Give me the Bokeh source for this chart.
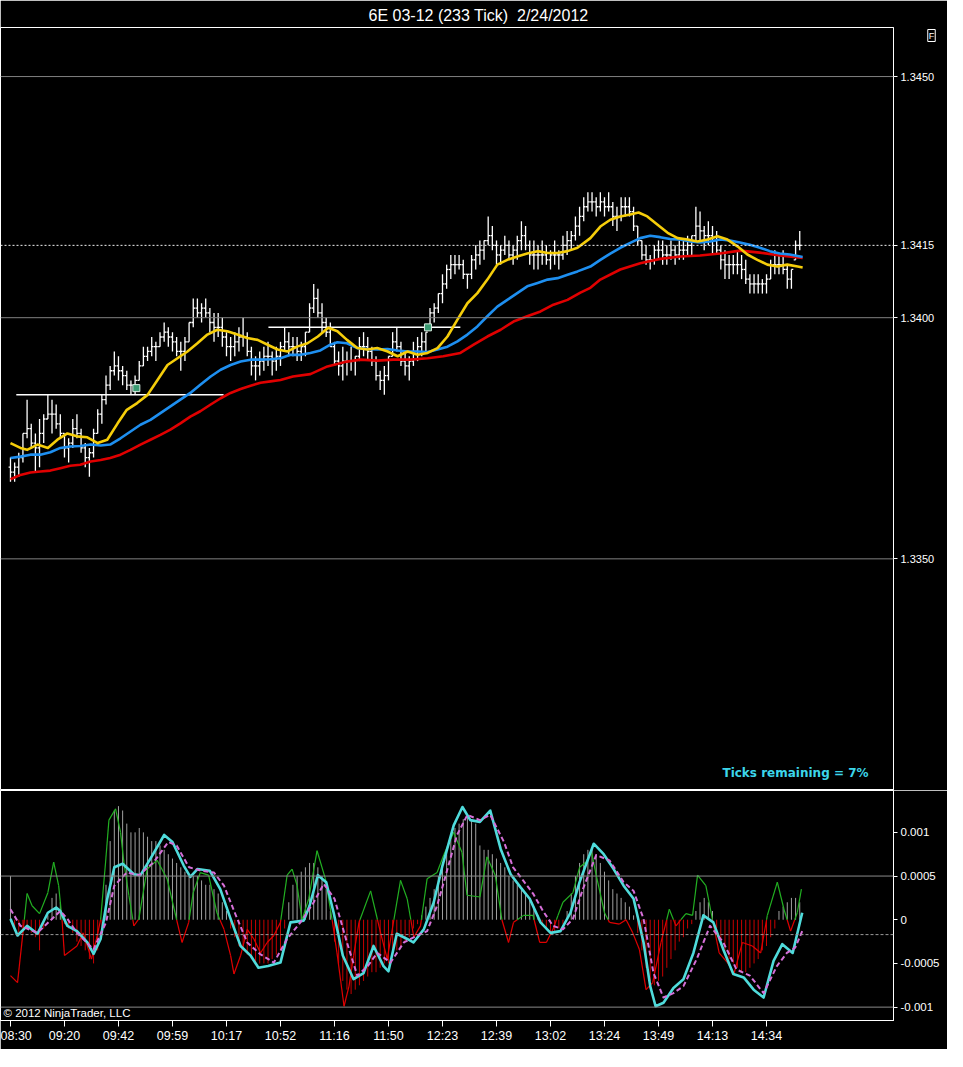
from bokeh.plotting import figure
from bokeh.layouts import column
from bokeh.models import Range1d, FixedTicker, Label, Span, CustomJSTickFormatter, Title
from bokeh.embed import file_html
from bokeh.resources import INLINE

# ---------------- data ----------------
TITLE = "6E 03-12 (233 Tick)\u00a0 2/24/2012"
BASE_PRICE = 1.3400      # prices below are stored in pips relative to this
PIP = 0.0001
OSC_UNIT = 0.0001        # oscillator values are stored in units of 0.0001

TIME_LABELS = ["08:30", "09:20", "09:42", "09:59", "10:17", "10:52", "11:16", "11:50",
               "12:23", "12:39", "13:02", "13:24", "13:49", "14:13", "14:34"]
TIME_LABEL_BARS = [0, 13, 26, 39, 52, 65, 78, 91, 104, 117, 130, 143, 156, 169, 182]

BAR_HIGH = [-29, -30, -28, -24, -17, -22, -24, -21, -20, -16,
            -17, -18, -20, -24, -25, -21, -20, -23, -26, -27,
            -23, -19, -16, -12, -10, -7, -8, -10, -11, -13,
            -12, -9, -6, -6, -4, -5, -3, -1, -2, -3,
            -4, -5, -4, -1, 4, 4, 3, 4, 2, 1,
            1, 0, -3, -4, -3, -2, 0, -3, -6, -8,
            -7, -6, -5, -7, -6, -5, -2, -3, -4, -4,
            -5, -3, 3, 7, 6, 3, 0, -1, -5, -7,
            -6, -7, -6, -8, -4, -3, -4, -6, -8, -11,
            -10, -8, -3, -2, -5, -7, -8, -5, -4, -3,
            -3, 2, 3, 5, 9, 11, 13, 13, 13, 12,
            9, 13, 15, 16, 16, 21, 19, 16, 15, 17,
            16, 15, 17, 20, 19, 16, 16, 15, 16, 15,
            14, 16, 14, 17, 18, 18, 21, 23, 25, 26,
            26, 25, 26, 25, 26, 24, 23, 25, 25, 25,
            23, 19, 16, 15, 13, 15, 16, 16, 15, 16,
            15, 16, 16, 17, 17, 23, 22, 19, 20, 19,
            18, 15, 14, 13, 13, 14, 13, 12, 9, 9,
            9, 8, 9, 12, 14, 13, 14, 11, 10, 16,
            18]
BAR_LOW = [-34, -34, -33, -30, -25, -27, -32, -31, -26, -21,
           -24, -23, -25, -29, -30, -27, -25, -28, -31, -33,
           -29, -24, -22, -18, -15, -12, -13, -14, -15, -16,
           -16, -13, -10, -9, -8, -9, -6, -5, -6, -7,
           -8, -11, -9, -5, -2, 0, -1, 0, -3, -5,
           -4, -6, -8, -9, -8, -7, -6, -8, -12, -13,
           -12, -11, -10, -12, -11, -10, -7, -8, -8, -9,
           -9, -8, -3, 1, 0, -3, -4, -6, -10, -12,
           -13, -12, -11, -12, -9, -8, -9, -10, -13, -15,
           -16, -13, -8, -7, -10, -12, -13, -10, -9, -8,
           -7, -2, -1, 1, 3, 6, 8, 9, 10, 8,
           6, 8, 10, 11, 12, 15, 14, 11, 11, 13,
           12, 11, 12, 14, 14, 11, 10, 10, 11, 11,
           10, 11, 10, 12, 13, 14, 16, 17, 20, 22,
           22, 21, 22, 21, 22, 19, 18, 20, 21, 21,
           18, 15, 12, 11, 10, 11, 12, 11, 11, 12,
           11, 12, 12, 13, 13, 16, 16, 14, 15, 13,
           13, 10, 8, 8, 9, 9, 8, 7, 5, 5,
           5, 5, 5, 8, 9, 9, 9, 6, 6, 12,
           14]
BAR_OPEN = [-31, -32, -31, -29, -24, -23, -26, -27, -24, -21,
            -20, -20, -22, -24, -27, -26, -23, -24, -27, -29,
            -28, -24, -20, -17, -14, -11, -10, -11, -12, -14,
            -14, -13, -10, -8, -7, -6, -6, -4, -3, -4,
            -5, -7, -7, -5, -1, 2, 1, 2, 1, -1,
            -2, -2, -4, -6, -6, -5, -4, -4, -7, -10,
            -10, -9, -8, -8, -9, -8, -6, -5, -6, -6,
            -7, -6, -3, 2, 4, 1, -1, -3, -6, -9,
            -10, -9, -9, -9, -8, -6, -6, -7, -9, -12,
            -13, -12, -8, -5, -6, -9, -10, -9, -7, -6,
            -5, -2, 1, 2, 5, 7, 10, 11, 11, 11,
            9, 9, 12, 13, 14, 16, 17, 15, 13, 14,
            15, 13, 14, 16, 17, 15, 13, 13, 13, 13,
            12, 13, 13, 13, 15, 16, 17, 19, 21, 23,
            24, 24, 23, 24, 23, 23, 21, 21, 23, 23,
            22, 19, 16, 13, 12, 12, 14, 14, 13, 13,
            14, 13, 14, 14, 15, 17, 19, 18, 17, 17,
            16, 14, 12, 11, 11, 11, 11, 10, 8, 7,
            7, 7, 7, 8, 11, 11, 11, 10, 8, 12,
            15]
BAR_CLOSE = [-32, -31, -29, -24, -23, -26, -27, -24, -21, -20,
             -20, -22, -24, -27, -26, -23, -24, -27, -29, -28,
             -24, -20, -17, -14, -11, -10, -11, -12, -14, -14,
             -13, -10, -8, -7, -6, -6, -4, -3, -4, -5,
             -7, -7, -5, -1, 2, 1, 2, 1, -1, -2,
             -2, -4, -6, -6, -5, -4, -4, -7, -10, -10,
             -9, -8, -8, -9, -8, -6, -5, -6, -6, -7,
             -6, -3, 2, 4, 1, -1, -3, -6, -9, -10,
             -9, -9, -9, -8, -6, -6, -7, -9, -12, -13,
             -12, -8, -5, -6, -9, -10, -9, -7, -6, -5,
             -3, 1, 2, 5, 7, 10, 11, 11, 11, 9,
             9, 12, 13, 14, 16, 17, 15, 13, 14, 15,
             13, 14, 16, 17, 15, 13, 13, 13, 13, 12,
             13, 13, 13, 15, 16, 17, 19, 21, 23, 24,
             24, 23, 24, 23, 23, 21, 21, 23, 23, 22,
             19, 16, 13, 12, 12, 14, 14, 13, 13, 14,
             13, 14, 14, 15, 17, 19, 18, 17, 17, 16,
             14, 12, 11, 11, 11, 11, 10, 8, 7, 7,
             7, 7, 8, 11, 11, 11, 10, 8, 10, 15,
             15]

# moving averages (bar position, pips)
YELLOW_BAR = [0, 2.4, 4, 6.5, 9, 11.3, 13.7, 16, 18.5, 21, 23.3, 25.8, 28, 30.5, 33, 35.4, 37.8,
              40.2, 42.6, 45, 47.4, 49.8, 52.2, 54.6, 57, 59.5, 61.9, 64.3, 66.7, 69, 71.5, 74,
              76.5, 78.7, 81, 83.5, 85.9, 88.3, 90.8, 93.2, 95.6, 98, 100.4, 102.8, 105.2, 107.6,
              110, 112.4, 114.8, 117.2, 119.6, 122, 124.4, 126.9, 129.3, 131.7, 134.1, 136.5,
              139.6, 142, 144.4, 146.8, 149.2, 151.2, 153.3, 155.7, 158.2, 160.6, 163, 165.4,
              167.8, 170.2, 172.6, 175, 177.4, 179.8, 182.2, 184.6, 187, 189.5, 190.7]
YELLOW_PIPS = [-26, -27, -27.4, -26.3, -27, -25.3, -24, -24.6, -24.8, -26, -25.3, -21.9, -19.1,
               -17.7, -16, -12.9, -9.8, -8.4, -7, -5.3, -3.5, -2.5, -2.8, -3.5, -4.2, -4.6, -5.6,
               -6.6, -7, -6, -5.3, -3.9, -2.1, -2.8, -4.6, -6.3, -6.6, -6.3, -7, -8, -7, -7.7,
               -7.3, -6.3, -3.9, -0.4, 3, 5.1, 7.9, 11, 12, 12.7, 13.3, 13.8, 13.4, 13.4, 13.8,
               14.5, 16.5, 18.9, 20.3, 21, 21.4, 21.8, 21, 19.3, 17.6, 16.5, 16.2, 15.8, 16.2,
               16.9, 16.2, 14.8, 13.1, 12, 11, 10.6, 11, 10.6, 10.4]
BLUE_BAR = [0, 2.4, 4.8, 7.2, 9.6, 12, 14.4, 16.8, 19.3, 21.7, 24, 26.5, 28.9, 31.3, 33.7, 36.1,
            38.5, 40.9, 43.3, 45.7, 48.2, 50.6, 53, 55.4, 57.8, 60.2, 62.6, 65, 67.4, 69.8, 72.2,
            74.6, 77, 78.7, 81, 83.5, 85.9, 88.3, 90.8, 93.2, 95.6, 98, 100.4, 102.8, 105.2,
            107.6, 110, 112.4, 114.8, 117.2, 119.6, 122, 124.4, 126.9, 129.3, 131.7, 134.1,
            136.5, 139.6, 142, 144.4, 146.8, 149.2, 151.6, 154, 156.4, 158.8, 161.2, 163.6, 166,
            168.4, 170.8, 173.2, 175.6, 178, 180.4, 182.8, 185.2, 187.6, 190.7]
BLUE_PIPS = [-29.1, -28.8, -28.4, -28.4, -27.9, -27, -26.7, -26.6, -26.3, -26.5, -26.3, -25,
             -23.6, -22.2, -21.2, -19.8, -18.4, -17, -15.6, -13.9, -12.2, -10.8, -9.8, -9.1,
             -8.7, -8.7, -8.6, -8.4, -7.7, -7.7, -7.3, -6.8, -5.6, -5.1, -5.3, -6.3, -6.5, -6.6,
             -6.5, -6.8, -7, -7, -7.1, -6.6, -6, -4.9, -3.5, -1.8, 0.3, 2.3, 3.7, 5.1, 6.5, 7.2,
             7.9, 8.2, 8.9, 9.6, 10.6, 12, 13.3, 14.5, 15.5, 16.5, 17, 16.7, 16.3, 16.2, 15.8,
             15.6, 15.8, 16.2, 16, 15.6, 15.1, 14.5, 13.8, 13.3, 13.1, 12.6]
RED_BAR = [0, 2.4, 4.8, 7.2, 9.6, 12, 14.4, 16.8, 19.3, 21.7, 24, 26.5, 28.9, 31.3, 33.7, 36.1,
           38.5, 40.9, 43.3, 45.7, 48.2, 50.6, 53, 55.4, 57.8, 60.2, 62.6, 65, 68, 72.2, 76.3,
           81, 84.3, 88.3, 92.2, 96.3, 100.4, 104.2, 108.3, 111.5, 114.8, 118, 121.1, 124.4,
           127.6, 130.7, 134.1, 137.2, 139.6, 142, 146.8, 151.6, 156.4, 161.2, 166, 170.8,
           175.6, 180.4, 185.2, 190.7]
RED_PIPS = [-33.5, -32.6, -32.1, -31.9, -31.7, -31.2, -30.7, -30.5, -29.8, -29.5, -29.1, -28.4,
            -27.4, -26.3, -25.3, -24.3, -23.2, -21.9, -20.5, -19.4, -18, -16.7, -15.6, -14.8,
            -14.1, -13.5, -13.2, -12.9, -12.2, -11.7, -10.1, -9.1, -8.7, -8.9, -8.7, -8.7, -8.4,
            -8, -7.3, -5.6, -3.9, -2.5, -0.8, 0.3, 1.3, 2.7, 3.7, 5.2, 6.2, 7.9, 10, 11.3, 12.2,
            12.7, 12.9, 13.3, 13.9, 13.5, 12.9, 12.4]

# oscillator panel (bar position, units of 0.0001)
HISTOGRAM = [5, -1, -1.5, -1.5, -1, -1.5, -2, -3.5, -1, 0.5,
             2.5, 3, 2, -0.5, -1, -1.5, -2.5, -3, -3.5, -4.5,
             -5, -3.5, -1, 4, 9, 12.5, 13, 12.5, 11, 10,
             10, 10.5, 10, 9.5, 9, 9, 8.5, 8, 7.5, 7,
             6.5, 6, 5.5, 5, 5, 5, 4.5, 4, 4, 3.5,
             3, 2, 1, -1, -2, -3, -3.5, -4, -4.5, -5,
             -5, -5, -5, -4.5, -4, -3.5, -1, 2, 4, 5,
             5.5, 6, 6.5, 6.5, 6, 5, 3.5, 1, -2.5, -5,
             -7, -8, -8.5, -8, -7.5, -7, -6.5, -6, -6, -5.5,
             -5, -5, -4, -3.5, -3, -2.5, -2, -1, -0.5, 0.5,
             1.5, 2.5, 3.5, 5, 6.5, 8, 9.5, 10.5, 11, 11.5,
             12, 11.5, 11, 8.5, 8, 8, 7.5, 7, 6.5, 6,
             5, 4.5, 4, 3.5, 3, 2.5, 1.5, 0.5, -0.5, -1,
             -1.5, -1.5, -1, -0.5, 1, 3, 5, 6.5, 7.5, 8,
             8, 7.5, 6.5, 5.5, 4.5, 3.5, 3, 2.5, 2, 1.5,
             0.5, -1.5, -3.5, -5.5, -7, -7.5, -7, -6.5, -5.5, -4.5,
             -3.5, -2.5, -2, -1, -0.5, 1, 2, 2.5, 2, 1,
             -1, -2.5, -3.5, -4.5, -5, -5.5, -6, -6, -5.5, -5,
             -4.5, -3.5, -3, -2, -1, 1, 1.5, 2, 2.5, 2.5,
             2]
CYAN_BAR = [0, 1.7, 4, 6.5, 9, 11, 12, 13.7, 16, 18.5, 20, 21.7, 23.3, 25, 27, 29.7, 31.3, 33.7,
            37, 39, 41.7, 43.3, 45, 48, 50.5, 53, 55.4, 57.8, 59.7, 62, 65, 67.4, 70.6, 72, 74,
            76, 77.8, 80, 82.6, 85, 87.4, 89.8, 91, 93, 95.5, 97, 99.5, 101.9, 104, 106.7, 108.8,
            110.7, 113, 115.5, 118, 120.4, 122.8, 125, 127.6, 130, 132.4, 134.8, 137, 140.4,
            142.8, 145.2, 147.6, 150, 152.4, 154, 155.3, 157.2, 159.6, 162, 164.4, 166.8, 169.2,
            171.6, 174, 176.5, 178.9, 181.3, 183.7, 185.8, 188.3, 190.6]
CYAN_VAL = [0.1, -1.8, -0.7, -1.6, 0.8, 1.4, 1, -0.7, -1.3, -2.6, -3.9, -2.2, 2.4, 6, 6.4, 5.2,
            5.1, 7, 9.7, 8.9, 6.2, 4.9, 5.8, 5.6, 3.5, 0.1, -3, -4.1, -5.5, -5.3, -4.9, -0.3,
            -0.1, 1.6, 5.1, 4.3, 0.8, -4.1, -6.8, -6.1, -3, -5.3, -5.9, -1.6, -2.2, -2.6, -1.1,
            2, 6.2, 10.8, 12.9, 11.4, 11.2, 12.5, 8.1, 5.2, 3.7, 2.4, -0.3, -1.5, -1.3, 0.8, 4.3,
            8.7, 7.5, 5.8, 3.9, 2.4, -2.6, -7.6, -9.9, -9.5, -7.8, -6.8, -3.8, 0.5, -0.3, -3.4,
            -6.2, -6.6, -8, -8.9, -4.7, -2.8, -3.8, 0.8]
MAGENTA_BAR = [0, 2.4, 6.5, 12, 13.7, 16, 20, 23, 25, 28, 31, 34.5, 38, 40, 43, 46, 49, 51.4, 54,
               57, 60, 63.4, 66.6, 69.8, 73, 75.4, 78, 81, 83.5, 86, 88.3, 91.5, 94.7, 97.9,
               100.3, 102.7, 105.2, 107.5, 110, 113, 115.5, 118.8, 121, 123.4, 125.8, 128.2,
               130.6, 133, 135.4, 137.8, 141, 144.2, 147.6, 150, 152.4, 154.8, 157.2, 159.6, 162,
               165.2, 168.4, 171.6, 174.8, 178, 181.3, 184.5, 186.9, 188.9, 190.6]
MAGENTA_VAL = [1.2, -0.7, -1.5, 1, 0.1, -1.5, -3.4, -0.3, 3.9, 5.4, 5.1, 6.6, 8.9, 8.5, 6, 5.6,
               5.4, 3.9, 0.8, -2.6, -3.9, -4.9, -2.2, -0.3, 2, 4.1, 2.4, -2.6, -6.4, -5.3, -3.8,
               -4.9, -2.6, -1.8, -1.3, 1.6, 5.8, 9.7, 12, 11.4, 12, 8.9, 6, 4.5, 3, 1, -0.7,
               -1.1, 0.1, 3.5, 7.4, 6.8, 4.3, 3.3, 0.1, -6.1, -8.9, -8.4, -7.6, -4.5, -0.7, -2.6,
               -5.7, -6.4, -8.4, -5.3, -3.8, -3.2, -1.3]
THIN_BAR = [0, 1.7, 3, 4, 5.2, 7, 9, 10.4, 11.6, 12.4, 13, 16, 17.5, 19.5, 20.9, 21.7, 22.9,
            23.7, 25.3, 26.5, 27.3, 28.5, 29.7, 30.9, 32.9, 35.3, 37.7, 40, 41.3, 42.9, 44, 45.7,
            47.7, 49.7, 51.4, 53, 53.8, 55.4, 57, 58.6, 60.2, 61.8, 63.4, 65, 66.6, 67.8, 69,
            70.2, 71.8, 73.8, 75.8, 77.4, 78.6, 80.3, 81.5, 82.6, 83.9, 86.7, 89.1, 90.7, 92.3,
            93.9, 95.5, 97.1, 98.7, 100.3, 102.7, 104.3, 106.7, 108.7, 109.9, 113, 114.7, 116.7,
            118.3, 119.9, 121.1, 123.5, 125.8, 127.4, 129, 130.6, 131.8, 133, 135.4, 137, 138.6,
            139.8, 141, 143, 144.2, 146.6, 148.2, 149.8, 151.4, 153, 154.6, 156.6, 158.6, 160.2,
            162.6, 164.2, 165.4, 167.4, 169, 170.6, 172.6, 174.2, 176.2, 178.6, 180.6, 182.2,
            184.6, 186.2, 187.8, 189.4, 190.4]
THIN_VAL = [-6.4, -7.2, -1.5, 3, 1.6, 0.7, 3.1, 6.6, 3.9, 0.1, -4.1, -3, -1.5, -4.5, -1.8, 0,
            6.6, 11.4, 12.7, 10, 6.6, 2.8, -0.7, 0.1, 5.8, 6.8, 4.7, 0, -2.6, -0.3, 3.1, 5.4,
            5.1, 0.8, -1.1, -4.1, -6.2, -4.1, -1.1, -2.2, -3.8, -2.6, -1.8, -0.3, 5.1, 5.8, 3.9,
            0, 2.4, 7.9, 4.7, 0.1, -3.8, -9.9, -7.6, -4.1, -0.3, 3.3, -1.5, -4.5, 0, 4.5, 2.4,
            -2, -0.7, 4.7, 5.4, 7.4, 10, 7.7, 2.8, 2.6, 7.2, 5.1, 0, -2.6, -0.3, 0.5, 0.5, -2.6,
            -2.6, -1.1, 0.5, 2, 3.1, 6, 6.6, 7.9, 5.1, 0.8, -0.3, -0.5, 0, -1.5, -3.4, -8, -7.2,
            -2.6, 1.2, -0.7, 0.7, 0.5, 5.1, 3.9, 0, -3.8, -4.9, -6.1, -2.6, -3, -3.8, 0.5, 4.3,
            1.2, -1.3, 0.8, 3.5]

PRICE_TICKS = [1.3350, 1.3400, 1.3450]
LAST_PRICE = 1.3415
OSC_TICKS = [-0.001, -0.0005, 0.0, 0.0005, 0.001]
OSC_LEVELS = [0.0005, -0.001]
OSC_SIGNAL_LEVEL = -0.00017
LEVEL_START_BAR = [1.4, 62.1]
LEVEL_END_BAR = [51.3, 108.3]
LEVEL_PRICE = [1.3384, 1.3398]
SIGNAL_BAR = [30.3, 100.5]
SIGNAL_PRICE = [1.33854, 1.3398]
TICKS_REMAINING = "Ticks remaining = 7%"
COPYRIGHT = "\u00a9 2012 NinjaTrader, LLC"

# ---------------- layout ----------------
FRAME_W = 893
MAIN_H = 763
OSC_H = 230
RIGHT = 54
BOTTOM = 29
FONT = "Liberation Sans"

x_range = Range1d(-2.4, 212.57)


def style_axis(ax, size="11px"):
    ax.axis_line_color = "white"
    ax.major_tick_line_color = "white"
    ax.minor_tick_line_color = None
    ax.major_tick_out = 4
    ax.major_tick_in = 0
    ax.major_label_text_color = "white"
    ax.major_label_text_font = FONT
    ax.major_label_text_font_size = size
    ax.major_label_standoff = 3


title = Title(text=TITLE, align="left", offset=368, standoff=8, text_color="white",
              text_font="Liberation Sans Narrow, Liberation Sans", text_font_size="16px",
              text_font_style="normal")

p = figure(frame_width=FRAME_W, frame_height=MAIN_H, x_range=x_range,
           y_range=Range1d(1.330197, 1.346017), output_backend="svg", toolbar_location=None,
           x_axis_location=None, y_axis_location="right", title=title,
           background_fill_color="black", border_fill_color="black",
           min_border_left=0, min_border_right=RIGHT, min_border_top=0, min_border_bottom=0,
           outline_line_color="white", outline_line_width=1)
p.grid.visible = False
ay = p.yaxis[0]
ay.ticker = FixedTicker(ticks=PRICE_TICKS + [LAST_PRICE])
ay.formatter = CustomJSTickFormatter(code="return tick.toFixed(4);")
style_axis(ay)

for lv in PRICE_TICKS:
    p.add_layout(Span(location=lv, dimension="width", line_color="#808080", line_width=1))
p.add_layout(Span(location=LAST_PRICE, dimension="width", line_color="#f0f0f0",
                  line_width=1, line_dash="2 2"))

idx = list(range(len(BAR_HIGH)))
hi = [BASE_PRICE + v * PIP for v in BAR_HIGH]
lo = [BASE_PRICE + v * PIP for v in BAR_LOW]
op = [BASE_PRICE + v * PIP for v in BAR_OPEN]
cl = [BASE_PRICE + v * PIP for v in BAR_CLOSE]
p.segment(x0=idx, y0=lo, x1=idx, y1=hi, line_color="white", line_width=1.3)
p.segment(x0=[i - 0.45 for i in idx], y0=op, x1=idx, y1=op, line_color="white", line_width=1.3)
p.segment(x0=idx, y0=cl, x1=[i + 0.45 for i in idx], y1=cl, line_color="white", line_width=1.3)

p.segment(x0=LEVEL_START_BAR, y0=LEVEL_PRICE, x1=LEVEL_END_BAR, y1=LEVEL_PRICE,
          line_color="white", line_width=1.5)

p.line(RED_BAR, [BASE_PRICE + v * PIP for v in RED_PIPS], line_color="#e00000",
       line_width=2.6, line_join="round")
p.line(BLUE_BAR, [BASE_PRICE + v * PIP for v in BLUE_PIPS], line_color="#1e8ff0",
       line_width=2.6, line_join="round")
p.line(YELLOW_BAR, [BASE_PRICE + v * PIP for v in YELLOW_PIPS], line_color="#f5cd0a",
       line_width=2.6, line_join="round")

p.scatter(SIGNAL_BAR, SIGNAL_PRICE, marker="square", size=7, fill_color="#3a9a72",
          line_color="#d6ece0", line_width=1)

p.add_layout(Label(x=868, y=18, x_units="screen", y_units="screen", text=TICKS_REMAINING,
                   text_align="right", text_baseline="middle", text_color="#3cd6ea",
                   text_font="DejaVu Sans", text_font_style="bold", text_font_size="12px"))
p.add_layout(Label(x=-6, y=MAIN_H - 8, x_units="screen", y_units="screen", text="F",
                   text_align="center", text_baseline="middle", text_color="white",
                   text_font=FONT, text_font_size="9px", border_line_color="white",
                   background_fill_color="black", padding=1), "right")

# ---------------- oscillator panel ----------------
q = figure(frame_width=FRAME_W, frame_height=OSC_H, x_range=x_range,
           y_range=Range1d(-0.001153, 0.001479), output_backend="svg", toolbar_location=None,
           y_axis_location="right", background_fill_color="black", border_fill_color="black",
           min_border_left=0, min_border_right=RIGHT, min_border_top=0, min_border_bottom=BOTTOM,
           outline_line_color="white", outline_line_width=1)
q.grid.visible = False
qy = q.yaxis[0]
qy.ticker = FixedTicker(ticks=OSC_TICKS)
qy.formatter = CustomJSTickFormatter(code="return String(Math.round(tick * 1e5) / 1e5);")
style_axis(qy, "11.5px")
qx = q.xaxis[0]
qx.ticker = FixedTicker(ticks=TIME_LABEL_BARS)
qx.major_label_overrides = {b: t for b, t in zip(TIME_LABEL_BARS, TIME_LABELS)}
style_axis(qx, "12.5px")
qx.major_tick_out = 6
qx.major_label_standoff = 2

for lv in OSC_LEVELS:
    q.add_layout(Span(location=lv, dimension="width", line_color="#8a8a8a", line_width=1))
q.add_layout(Span(location=OSC_SIGNAL_LEVEL, dimension="width", line_color="#9a9a9a",
                  line_width=1, line_dash="3 2"))

hist = [v * OSC_UNIT for v in HISTOGRAM]
hcol = ["#a0a0a0" if v >= 0 else "#c80000" for v in hist]
q.segment(x0=idx, y0=[0] * len(idx), x1=idx, y1=hist, line_color=hcol, line_width=1)

sx0, sy0, sx1, sy1, scol = [], [], [], [], []
for k in range(len(THIN_BAR) - 1):
    xa, ya, xb, yb = THIN_BAR[k], THIN_VAL[k], THIN_BAR[k + 1], THIN_VAL[k + 1]
    if ya * yb < 0:
        xm = xa + (xb - xa) * ya / (ya - yb)
        parts = [(xa, ya, xm, 0.0), (xm, 0.0, xb, yb)]
    else:
        parts = [(xa, ya, xb, yb)]
    for (a, b, c, d) in parts:
        sx0.append(a); sy0.append(b * OSC_UNIT); sx1.append(c); sy1.append(d * OSC_UNIT)
        scol.append("#22b022" if (b + d) >= 0 else "#e00000")
q.segment(x0=sx0, y0=sy0, x1=sx1, y1=sy1, line_color=scol, line_width=1.2)

q.line(CYAN_BAR, [v * OSC_UNIT for v in CYAN_VAL], line_color="#4fdbdb", line_width=2.6,
       line_join="round")
q.line(MAGENTA_BAR, [v * OSC_UNIT for v in MAGENTA_VAL], line_color="#d56fd8",
       line_width=2, line_dash="5 3", line_join="round")

q.add_layout(Label(x=3, y=8, x_units="screen", y_units="screen", text=COPYRIGHT,
                   text_align="left", text_baseline="middle", text_color="white",
                   text_font=FONT, text_font_size="11.5px"))

layout = column(p, q, spacing=0)
open("out.html", "w").write(file_html(layout, INLINE, title="6E 03-12 (233 Tick)"))
